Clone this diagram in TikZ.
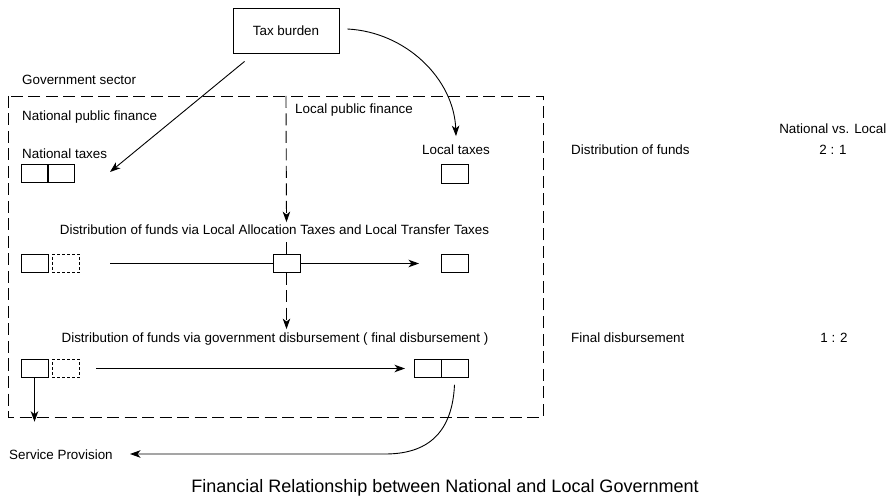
\documentclass[tikz,border=0pt]{standalone}
\usepackage{fontspec}
\setmainfont{Liberation Sans}
\usetikzlibrary{arrows.meta}
\begin{document}
\begin{tikzpicture}[x=1pt,y=-1pt,
  every node/.style={font=\fontsize{13.4}{16}\selectfont},
  lbl/.style={inner sep=0pt,anchor=base west},
  clbl/.style={inner sep=0pt,anchor=base},
  cell/.style={draw,line width=0.9pt,minimum width=27pt,minimum height=18.5pt,inner sep=0pt,outer sep=0pt},
  dcell/.style={cell,dash pattern=on 3pt off 2pt},
  tipstyle/.style={-{Stealth[length=10.5pt,width=7.5pt,inset=3pt]}},
  conn/.style={line width=0.9pt,tipstyle},
  bigdash/.style={line width=0.9pt,dash pattern=on 12pt off 5.5pt}
]
\useasboundingbox (0,0) rectangle (887,497);

% Tax burden
\node[draw,line width=0.9pt,minimum width=106pt,minimum height=45pt,inner sep=0pt] (tax) at (286,30.5) {Tax burden};

% Government sector
\node[lbl] (gov) at (22,85) {Government sector};
\draw[bigdash] (8,96) rectangle (543,417);

\node[lbl] (npf) at (22,121) {National public finance};
\node[lbl] (lpf) at (295,114) {Local public finance};

% row 1
\node[lbl] (nt) at (22,159) {National taxes};
\node[cell] (nt1) at (34.5,173.5) {};
\node[cell] (nt2) at (61,173.5) {};
\node[clbl] (lt) at (456,155) {Local taxes};
\node[cell] (ltb) at (454.5,174) {};
\node[lbl] (dof) at (571,155) {Distribution of funds};
\node[inner sep=0pt,anchor=base east] (nvl) at (886.5,134) {National vs. Local};
\node[clbl] (r21) at (833,155) {2 : 1};

% row 2
\node[clbl] (row2) at (274.5,235) {Distribution of funds via Local Allocation Taxes and Local Transfer Taxes};
\node[cell] (s2) at (34.5,263.5) {};
\node[dcell] (d2) at (65.5,263.5) {};
\node[cell] (c2) at (286.5,263.5) {};
\node[cell] (r2) at (454.5,263.5) {};

% row 3
\node[clbl] (row3) at (275,342) {Distribution of funds via government disbursement ( final disbursement )};
\node[lbl] (fd) at (571,342) {Final disbursement};
\node[clbl] (r12) at (834,342) {1 : 2};
\node[cell] (s3) at (34.5,368.5) {};
\node[dcell] (d3) at (65.5,368.5) {};
\node[cell] (b31) at (427.5,368.5) {};
\node[cell] (b32) at (454.5,368.5) {};

% bottom texts
\node[lbl] (sp) at (9,459) {Service Provision};
\node[clbl,font=\fontsize{18}{22}\selectfont] (title) at (445,492) {Financial Relationship between National and Local Government};

% coordinates
\coordinate (ntin) at (110,172);
\coordinate (spin) at (130,454);

% connectors
\draw[conn] ([xshift=12pt,yshift=-8pt]tax.south west) -- (ntin);
\draw[conn] ([xshift=8pt,yshift=1.5pt]tax.east) .. controls (406,32) and (454,79) .. ([yshift=9pt]lt.north);
\draw[bigdash,tipstyle] (286,96) -- ([yshift=3pt]row2.north -| c2);
\draw[bigdash] ([yshift=12pt]c2.north) -- (c2.north);
\draw[bigdash,tipstyle] (c2.south) -- ([yshift=3pt]row3.north -| c2);
\draw[line width=0.9pt] ([xshift=31pt]d2.east) -- (c2.west);
\draw[conn] (c2.east) -- ([xshift=-22pt]r2.west);
\draw[conn] ([xshift=17pt]d3.east) -- ([xshift=-9pt]b31.west);
\draw[conn] (s3.south) -- ([yshift=-44pt]s3.south);
\draw[conn] ([yshift=-7pt]b32.south) .. controls (452,440) and (420,454) .. (385,454) -- (spin);
\end{tikzpicture}
\end{document}
